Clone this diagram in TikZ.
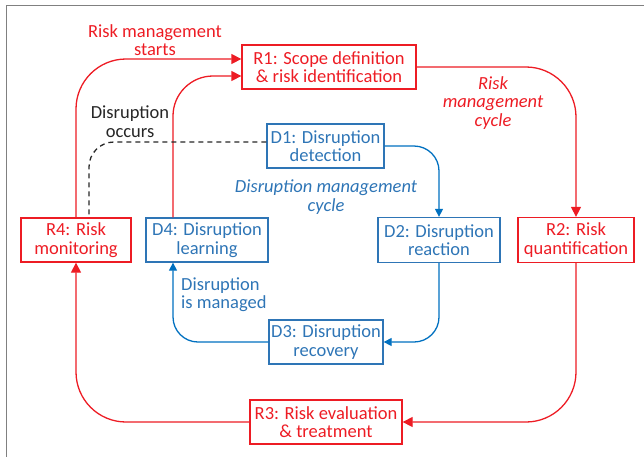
\documentclass[tikz,border=0pt]{standalone}
\usepackage{fontspec}
\setmainfont{Carlito}
\usetikzlibrary{arrows.meta}
\definecolor{riskred}{RGB}{237,28,36}
\definecolor{disblue}{RGB}{46,117,182}
\definecolor{arrblue}{RGB}{0,112,192}
\definecolor{framegray}{RGB}{128,128,128}
\tikzset{
  every node/.style={font=\fontsize{18.5}{18.5}\selectfont},
  rbox/.style={draw=riskred, text=riskred, line width=1.3pt, align=center, inner sep=0pt},
  dbox/.style={draw=disblue, text=disblue, line width=1.3pt, align=center, inner sep=0pt},
  rarrow/.style={draw=riskred, line width=1.3pt, -{Triangle[length=10pt,width=10pt]}, rounded corners=50pt},
  darrow/.style={draw=arrblue, line width=1.3pt, -{Triangle[length=8pt,width=8pt]}, rounded corners=25pt},
  lbl/.style={align=center, inner sep=0pt},
}
\begin{document}
\begin{tikzpicture}[x=1pt, y=-1pt]
\useasboundingbox (0,0) rectangle (644,456);
% outer frame
\draw[framegray, line width=1.5pt] (6.5,470) -- (6.5,5.3) -- (660,5.3);

% risk management boxes
\node[rbox, minimum width=174pt, minimum height=44pt] (R1) at (329,67) {R1: Scope definition\\\& risk identification};
\node[rbox, minimum width=116pt, minimum height=45pt] (R2) at (576,240) {R2: Risk\\quantification};
\node[rbox, minimum width=152pt, minimum height=44pt] (R3) at (326,422) {R3: Risk evaluation\\\& treatment};
\node[rbox, minimum width=110pt, minimum height=44pt] (R4) at (76,240) {R4: Risk\\monitoring};

% disruption management boxes
\node[dbox, minimum width=117pt, minimum height=44pt] (D1) at (325.5,146) {D1: Disruption\\detection};
\node[dbox, minimum width=122pt, minimum height=45pt] (D2) at (439,240) {D2: Disruption\\reaction};
\node[dbox, minimum width=114pt, minimum height=44pt] (D3) at (326,342) {D3: Disruption\\recovery};
\node[dbox, minimum width=122pt, minimum height=44pt] (D4) at (207,240) {D4: Disruption\\learning};

% risk management cycle
\draw[rarrow] (R4.north) |- ([yshift=8pt]R1.west);
\draw[rarrow, rounded corners=40pt] ([xshift=-34pt]D4.north) |- ([yshift=-9pt]R1.west);
\draw[rarrow] (R1.east) -| (R2.north);
\draw[rarrow] (R2.south) |- (R3.east);
\draw[rarrow] (R3.west) -| (R4.south);

% disruption management cycle
\draw[darrow] (D1.east) -| (D2.north);
\draw[darrow] (D2.south) |- (D3.east);
\draw[darrow] (D3.west) -| ([xshift=-34pt]D4.south);

% disruption trigger
\draw[black!85, line width=1.3pt, dashed, dash pattern=on 5pt off 4pt, rounded corners=25pt]
  ([yshift=4pt]D1.west) -| ([xshift=13pt]R4.north);

% labels
\node[lbl, text=riskred] (lstart) at (155,40) {Risk management\\starts};
\node[lbl, text=black!85] (loccurs) at (130,121.5) {Disruption\\occurs};
\node[lbl, text=riskred, font=\fontsize{18.5}{18.5}\selectfont\itshape] (lrcycle) at (493,103) {Risk\\management\\cycle};
\node[lbl, text=disblue, font=\fontsize{18.5}{18.5}\selectfont\itshape] (ldcycle) at (326,197) {Disruption management\\cycle};
\node[lbl, text=disblue, align=left, anchor=west] (lmanaged) at (181,294.5) {Disruption\\is managed};
\end{tikzpicture}
\end{document}
